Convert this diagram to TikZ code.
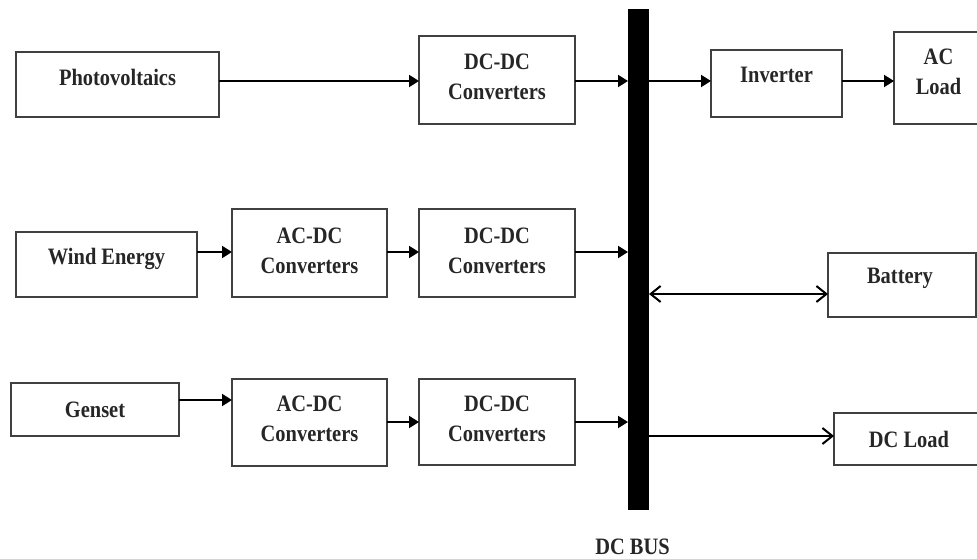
\documentclass[tikz,border=0pt]{standalone}
\usepackage{fontspec}
\setmainfont{Liberation Serif}[FakeStretch=0.87]
\usetikzlibrary{arrows.meta}
\begin{document}
\begin{tikzpicture}[x=1pt,y=-1pt,
  box/.style={draw=black!75, line width=1.3pt, inner sep=0pt, outer sep=0pt},
  txt/.style={font=\bfseries\fontsize{23.5}{30}\selectfont, align=center, anchor=base, inner sep=0pt, text=black!85},
  arr/.style={line width=2pt, -{Triangle[length=10pt,width=12pt]}},
  oarr/.style={line width=2pt, -{Straight Barb[length=10pt,width=16pt]}},
  barr/.style={line width=2pt, {Straight Barb[length=10pt,width=16pt]}-{Straight Barb[length=10pt,width=16pt]}}]
\useasboundingbox (0,0) rectangle (977,559);
% boxes
\node[box, minimum width=203pt, minimum height=65pt] (pv) at (117.5,84.5) {};
\node[box, minimum width=156pt, minimum height=88pt] (dc1) at (497,80) {};
\node[box, minimum width=131pt, minimum height=67pt] (inv) at (776.5,83.5) {};
\node[box, minimum width=89pt, minimum height=92pt] (acl) at (938.5,78) {};
\node[box, minimum width=181pt, minimum height=65pt] (wind) at (106.5,264.5) {};
\node[box, minimum width=155pt, minimum height=88pt] (ac2) at (309.5,253) {};
\node[box, minimum width=156pt, minimum height=88pt] (dc2) at (497,253) {};
\node[box, minimum width=148pt, minimum height=64pt] (bat) at (902,285) {};
\node[box, minimum width=168pt, minimum height=53pt] (gen) at (95,409.5) {};
\node[box, minimum width=155pt, minimum height=87pt] (ac3) at (309.5,422.5) {};
\node[box, minimum width=156pt, minimum height=86pt] (dc3) at (497,422) {};
\node[box, minimum width=150pt, minimum height=52pt] (dcl) at (909,439) {};
% bus
\node[fill=black, inner sep=0pt, outer sep=0pt, minimum width=21pt, minimum height=501pt] (bus) at (638.5,259.5) {};
% texts (two-line texts are placed by the baseline of their last line)
\node[txt] (tpv) at (117.5,86) {Photovoltaics};
\node[txt] (tdc1) at (497,100) {DC-DC\\Converters};
\node[txt] (tinv) at (776.5,83) {Inverter};
\node[txt] (tacl) at (938.5,95) {AC\\Load};
\node[txt] (twind) at (106.5,264) {Wind Energy};
\node[txt] (tac2) at (309.5,273) {AC-DC\\Converters};
\node[txt] (tdc2) at (497,273) {DC-DC\\Converters};
\node[txt] (tbat) at (900,283) {Battery};
\node[txt] (tgen) at (95,417) {Genset};
\node[txt] (tac3) at (309.5,441) {AC-DC\\Converters};
\node[txt] (tdc3) at (497,441) {DC-DC\\Converters};
\node[txt] (tdcl) at (909,447) {DC Load};
\node[txt] (tbus) at (632.5,554) {DC BUS};
% rows
\coordinate (r1) at (0,81);
\coordinate (r2) at (0,252);
\coordinate (r3a) at (0,400);
\coordinate (r3b) at (0,422);
\coordinate (rb) at (0,294);
\coordinate (rd) at (0,436);
% connectors
\draw[arr] (pv.east |- r1) -- (dc1.west |- r1);
\draw[arr] (dc1.east |- r1) -- (bus.west |- r1);
\draw[arr] (bus.east |- r1) -- (inv.west |- r1);
\draw[arr] (inv.east |- r1) -- (acl.west |- r1);
\draw[arr] (wind.east |- r2) -- (ac2.west |- r2);
\draw[arr] (ac2.east |- r2) -- (dc2.west |- r2);
\draw[arr] (dc2.east |- r2) -- (bus.west |- r2);
\draw[barr] (bus.east |- rb) -- (bat.west |- rb);
\draw[arr] (gen.east |- r3a) -- (ac3.west |- r3a);
\draw[arr] (ac3.east |- r3b) -- (dc3.west |- r3b);
\draw[arr] (dc3.east |- r3b) -- (bus.west |- r3b);
\draw[oarr] (bus.east |- rd) -- (dcl.west |- rd);
\end{tikzpicture}
\end{document}
